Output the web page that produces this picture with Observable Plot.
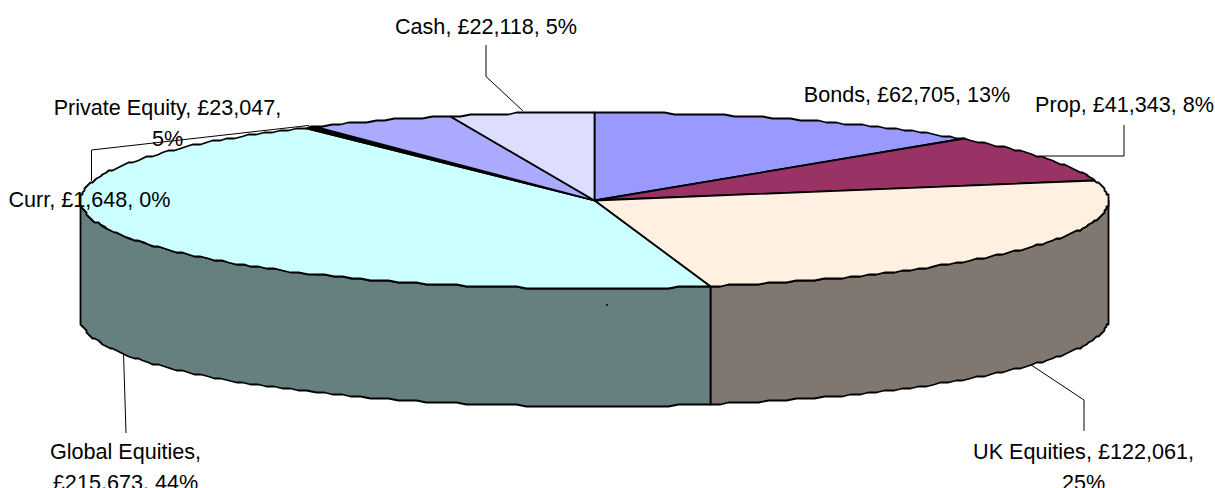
<!DOCTYPE html>
<html>
<head>
<meta charset="utf-8">
<script src="https://cdn.jsdelivr.net/npm/d3@7"></script>
<script src="https://cdn.jsdelivr.net/npm/@observablehq/plot@0.6"></script>
<style>
html,body{margin:0;padding:0;background:#fff;overflow:hidden}
svg{display:block}
</style>
</head>
<body>
<script>
// Data, clockwise from twelve o'clock
const names = ["Bonds", "Prop", "UK Equities", "Global Equities", "Curr", "Private Equity", "Cash"];
const values = [62705, 41343, 122061, 215673, 1648, 23047, 22118];
const topColors = ["#9999FF", "#993366", "#FFF0E1", "#CCFFFF", "#000000", "#AAAAFF", "#DDDDFF"];
const sideColors = {"UK Equities": "#807870", "Global Equities": "#668080"};
const labelBreakAfter = {"Private Equity": "£23,047,", "Global Equities": "Global Equities,", "UK Equities": "£122,061,"};

// Layout of the drawing
const W = 1215, H = 488;
const cx = 594, cy = 200, rx = 514, ry = 88, depth = 118, grid = 2, chord = 0.02;
const labelPos = {
  "Bonds": [906.5, 92], "Prop": [1124, 102], "UK Equities": [1083, 464],
  "Global Equities": [125, 464], "Curr": [89, 197], "Private Equity": [167, 120], "Cash": [485.5, 24]
};
const leaders = {
  "Cash": [[485.5, 45], [485.5, 76], [522, 110]],
  "Prop": [[1123.5, 125], [1123.5, 155.5], [1043, 155.5]],
  "Private Equity": [[308, 125], [91, 149.5], [91, 180]],
  "Global Equities": [[123, 352], [125.5, 432]],
  "UK Equities": [[1030, 364], [1083.5, 399.5], [1083.5, 430]]
};
const specks = [{x: 606.5, y: 304.5}];

const total = d3.sum(values);
const snap = v => Math.round(v / grid) * grid;
// small perspective correction of the tilted disc
const warp = t => t - 0.008 * Math.sin(t) + 0.005 * (1 - Math.cos(t));
const rim = (t, dy = 0) => ({
  x: snap(cx + rx * Math.sin(t)),
  y: snap(cy - ry * Math.cos(t)) + dy
});
const arc = (a, b, dy = 0) => {
  const n = Math.max(1, Math.ceil(Math.abs(b - a) / chord));
  return d3.range(n + 1).map(i => rim(a + (b - a) * i / n, dy));
};

let cum = 0;
const slices = names.map((name, i) => {
  const a0 = warp(cum / total * 2 * Math.PI);
  cum += values[i];
  const a1 = warp(cum / total * 2 * Math.PI);
  return {name, a0, a1, value: values[i]};
});

const topPts = slices.flatMap(s => {
  const ring = [{x: cx, y: cy}, ...arc(s.a0, s.a1), {x: cx, y: cy}];
  return ring.map(p => ({...p, key: s.name}));
});
const front0 = Math.PI / 2, front1 = 3 * Math.PI / 2;
const sidePts = slices.flatMap(s => {
  const a = Math.max(s.a0, front0), b = Math.min(s.a1, front1);
  if (b <= a) return [];
  const ring = [...arc(a, b), ...arc(b, a, depth)];
  ring.push(ring[0]);
  return ring.map(p => ({...p, key: s.name + " side"}));
});

const labels = slices.map(s => {
  const pct = Math.round(s.value / total * 100);
  let text = `${s.name}, £${d3.format(",")(s.value)}, ${pct}%`;
  const br = labelBreakAfter[s.name];
  if (br) text = text.replace(br + " ", br + "\n");
  return {text, x: labelPos[s.name][0], y: labelPos[s.name][1]};
});

const leaderPts = Object.entries(leaders).flatMap(([k, pts]) => pts.map(([x, y]) => ({x, y, k})));

const colorDomain = [...names, ...Object.keys(sideColors).map(k => k + " side")];
const colorRange = [...topColors, ...Object.values(sideColors)];

const chart = Plot.plot({
  width: W, height: H,
  margin: 0,
  style: {background: "#fff"},
  x: {domain: [0, W], range: [0, W], axis: null},
  y: {domain: [0, H], range: [0, H], axis: null},
  color: {domain: colorDomain, range: colorRange},
  marks: [
    Plot.line(leaderPts, {x: "x", y: "y", z: "k", stroke: "#000", strokeWidth: 1, curve: "linear"}),
    Plot.line(sidePts, {x: "x", y: "y", z: "key", fill: "key", stroke: "#000", strokeWidth: 1.8, curve: "linear", strokeLinejoin: "round"}),
    Plot.line(topPts, {x: "x", y: "y", z: "key", fill: "key", stroke: "#000", strokeWidth: 1.8, curve: "linear", strokeLinejoin: "round"}),
    Plot.dot(specks, {x: "x", y: "y", r: 1, fill: "#000"}),
    Plot.text(labels, {
      x: "x", y: "y", text: "text", fill: "#000", textAnchor: "middle", lineAnchor: "middle",
      fontFamily: "'Liberation Sans', Arial, sans-serif", fontSize: 21.6, lineHeight: 1.42
    })
  ]
});
document.body.appendChild(chart);
</script>
</body>
</html>
